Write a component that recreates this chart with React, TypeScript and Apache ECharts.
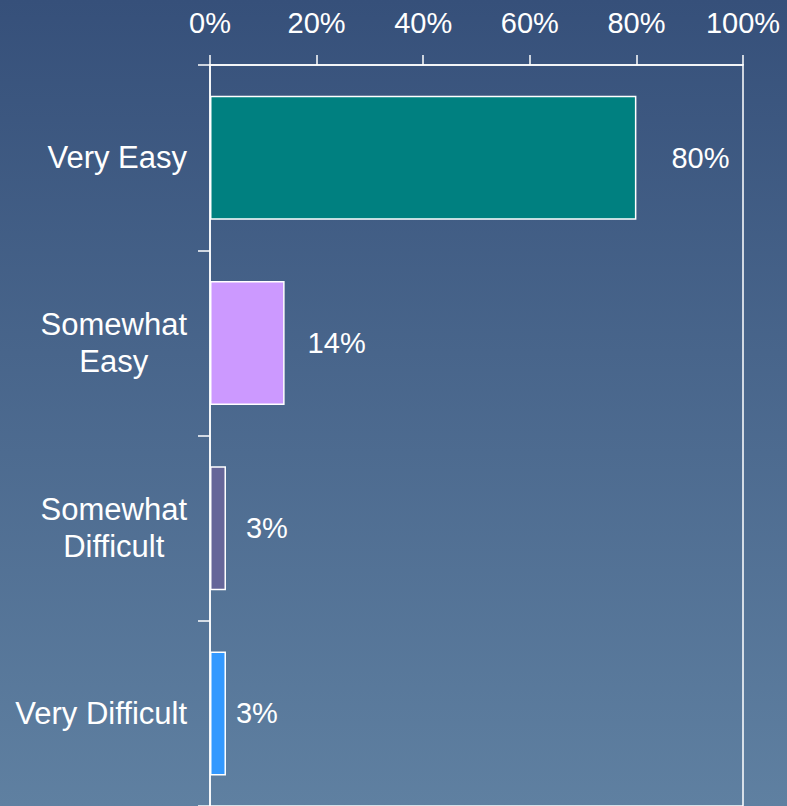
import React, { useEffect, useRef } from "react";
import * as echarts from "echarts";

const categories = ["Very Easy", "Somewhat\nEasy", "Somewhat\nDifficult", "Very Difficult"];
const values = [80, 14, 3, 3];
const barColors = ["#008080", "#cc99ff", "#666699", "#3399ff"];
const labelDistances = [35, 23, 20, 10];
const FONT = "'Liberation Sans', Arial, sans-serif";

export default function App() {
  const ref = useRef<HTMLDivElement>(null);
  useEffect(() => {
    if (!ref.current) return;
    const chart = echarts.init(ref.current, undefined, { renderer: "svg" });
    chart.setOption({
      animation: false,
      backgroundColor: {
        type: "linear",
        x: 0,
        y: 0,
        x2: 0,
        y2: 1,
        colorStops: [
          { offset: 0, color: "#36507a" },
          { offset: 1, color: "#5f80a1" },
        ],
      },
      grid: {
        left: 210,
        top: 65,
        width: 533,
        height: 744,
        show: true,
        borderColor: "#ffffff",
        borderWidth: 1.5,
        backgroundColor: "transparent",
      },
      xAxis: {
        type: "value",
        position: "top",
        min: 0,
        max: 100,
        interval: 20,
        axisLine: { show: true, lineStyle: { color: "#ffffff", width: 1.5 } },
        axisTick: { show: true, length: 10, lineStyle: { color: "#ffffff", width: 1.5 } },
        splitLine: { show: false },
        axisLabel: {
          formatter: "{value}%",
          color: "#ffffff",
          fontSize: 29,
          fontFamily: FONT,
          margin: 28,
        },
      },
      yAxis: {
        type: "category",
        inverse: true,
        data: categories,
        axisLine: { show: true, lineStyle: { color: "#ffffff", width: 1.5 } },
        axisTick: { show: true, length: 12, lineStyle: { color: "#ffffff", width: 1.5 } },
        splitLine: { show: false },
        axisLabel: {
          margin: 23,
          color: "#ffffff",
          fontSize: 31,
          fontFamily: FONT,
          formatter: (v: string) =>
            v
              .split("\n")
              .map((l) => `{c|${l}}`)
              .join("\n"),
          rich: {
            c: {
              align: "center",
              color: "#ffffff",
              fontSize: 31,
              fontFamily: FONT,
              lineHeight: 37,
            },
          },
        },
      },
      series: [
        {
          type: "bar",
          barWidth: 124,
          data: values.map((v, i) => ({
            value: v,
            itemStyle: { color: barColors[i], borderColor: "#ffffff", borderWidth: 1.5 },
            label: { distance: labelDistances[i] },
          })),
          label: {
            show: true,
            position: "right",
            formatter: "{c}%",
            color: "#ffffff",
            fontSize: 29,
            fontFamily: FONT,
          },
        },
      ],
    });
    return () => chart.dispose();
  }, []);
  return (
    <div
      ref={ref}
      style={{ position: "fixed", left: 0, top: 0, width: 787, height: 806 }}
    />
  );
}
